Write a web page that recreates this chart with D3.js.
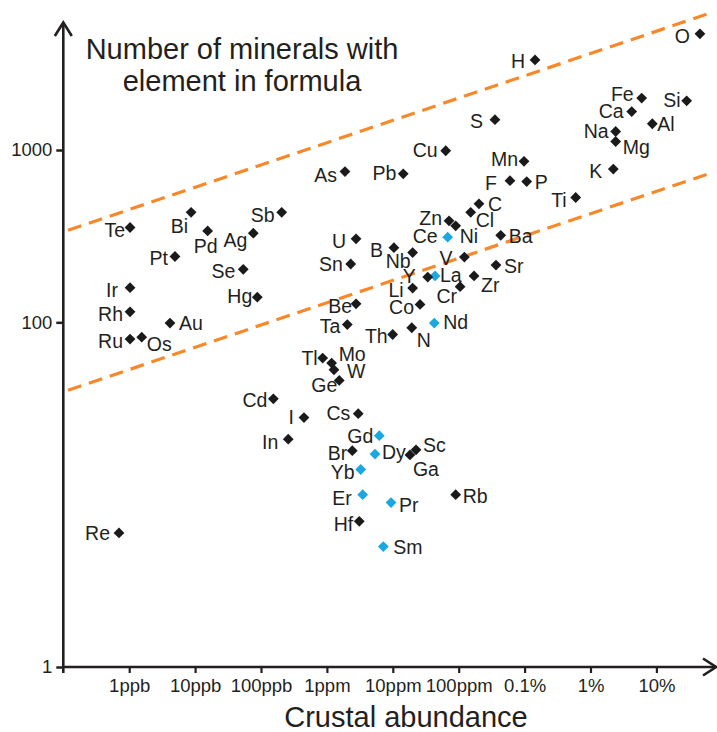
<!DOCTYPE html>
<html><head><meta charset="utf-8">
<script src="https://cdn.jsdelivr.net/npm/d3@7"></script>
<style>
html,body{margin:0;padding:0;background:#fff;}
text{font-family:"Liberation Sans",Arial,Helvetica,sans-serif;fill:#231f20;}
</style></head>
<body>
<svg id="chart" width="717" height="732"></svg>
<script>
// ---- data ----
const elements = ["O","H","Si","Fe","Ca","Al","Na","Mg","S","Cu","Mn","K","As","Pb","F","P","Ti","C","Cl","Bi","Sb","Zn","Ni","Te","Pd","Ag","Ba","Ce","U","B","Nb","Pt","V","Sn","Sr","Se","Y","La","Zr","Ir","Li","Cr","Hg","Be","Co","Rh","Au","Nd","Ta","N","Th","Os","Ru","Tl","Mo","W","Ge","Cd","Cs","I","In","Gd","Br","Sc","Dy","Ga","Yb","Er","Rb","Pr","Hf","Sm","Re"];
// crustal abundance in ppm
const abundance = [458000,1440,288000,59800,42200,86700,24100,24100,355,63.5,980,22200,1.88,14.4,600,1076,5960,203,152,0.0087,0.206,71.3,90,0.00103,0.0155,0.0764,434,68,2.77,10.4,20,0.00495,122,2.3,368,0.0538,33.9,43.7,171,0.00103,20,105,0.0879,2.77,25.9,0.00103,0.00416,42.6,2.04,19.4,9.96,0.00155,0.00103,0.863,1.18,1.28,1.54,0.154,2.99,0.449,0.259,6.24,2.43,22.5,5.37,18.2,3.26,3.49,90,9.4,3.1,7.18,0.0007];
// number of minerals with element in formula
const minerals = [4720,3330,1930,2000,1670,1420,1280,1120,1500,990,860,775,750,727,664,656,530,487,435,435,435,388,363,355,339,329,320,312,305,271,254,241,239,218,215,203,183,186,186,159,158,161,140,128,127,115,99,99,97,93,85,82,80,62,58,53,46,36,29.5,28,21,22,18,18.2,17.2,17,14,10,10,9,7,5,6];
const rareEarths = ["Ce","La","Nd","Gd","Dy","Yb","Er","Pr","Sm"];
// dashed guide lines [abundance ppm, minerals]
const upperLine = [[1e-4,335],[7.1e5,6300]];
const lowerLine = [[1e-4,39.5],[7.1e5,741]];
// tick labels
const xTickValues = [1e-3,1e-2,1e-1,1,10,100,1e3,1e4,1e5];
const xTickLabels = ["1ppb","10ppb","100ppb","1ppm","10ppm","100ppm","0.1%","1%","10%"];
const yTickValues = [1,100,1000];
const yTickLabels = ["1","100","1000"];
const titleLines = ["Number of minerals with","element in formula"];
const xTitle = "Crustal abundance";

// ---- label layout: [anchor, dx, dy] ----
const labelPos = {
 Te:["e",-5,9.5],Bi:["e",-3,21],Pd:["m",-2,22],Ag:["e",-6,14],Sb:["e",-7,10],As:["e",-8,10],U:["e",-10,9],
 O:["e",-10,9],H:["e",-10,8],S:["e",-12,8],Cu:["e",-8,6],Pb:["e",-7,6],Mn:["e",-6,5],F:["e",-13,9],P:["s",8,7],
 Fe:["e",-8,3],Ca:["e",-8,6],Si:["e",-6,6],Al:["s",5,7],Na:["e",-7,6],Mg:["s",7,12],K:["e",-11,9],Ti:["e",-9,9],
 C:["s",9,7],Cl:["s",5,15],Zn:["e",-7,4],Ni:["s",4,17],Ce:["e",-10,6],Ba:["s",8,8],B:["e",-11,9],Nb:["e",-2,15],
 V:["e",-12,8],Sr:["s",8,8],Y:["e",-12,6],La:["s",5,6],Zr:["s",7,16],Li:["e",-9,9],Cr:["e",-3,16],Co:["e",-6,10],
 Nd:["s",9,6],N:["s",5,19],Th:["e",-5,9],Pt:["e",-7,9],Se:["e",-8,9],Ir:["e",-12,9],Hg:["e",-5,6],Rh:["e",-7,9],
 Au:["s",9,7],Ru:["e",-7,9],Os:["s",5,14],Sn:["e",-8,7],Be:["e",-4,9],Ta:["e",-7,8],Tl:["e",-5,7],Mo:["s",7,-2],
 W:["s",13,8],Ge:["e",-2,12],Cd:["e",-6,8],I:["e",-10,6],In:["e",-10,10],Cs:["e",-8,6],Gd:["e",-6,7],Br:["e",-5,9],
 Dy:["s",7,5],Sc:["s",7,2],Ga:["s",3,21],Yb:["e",-6,10],Er:["e",-11,10],Pr:["s",8,9],Rb:["s",7,8],Hf:["e",-6,10],
 Sm:["s",10,7],Re:["e",-9,7]
};

const INK = "#231f20", BLUE = "#1ba8e2", ORANGE = "#f7892b";
const svg = d3.select("#chart");
const x = d3.scaleLog().domain([1e-4,1e6]).range([63.3,722.3]);
const y = d3.scaleLog().domain([1,1000]).range([667,150]);

// dashed lines
const line = d3.line().x(d=>x(d[0])).y(d=>y(d[1]));
[upperLine, lowerLine].forEach(l=>{
  svg.append("path").attr("d", line(l)).attr("fill","none")
    .attr("stroke",ORANGE).attr("stroke-width",3.2).attr("stroke-dasharray","14,8")
    .attr("stroke-dashoffset",-5);
});

// axes
const xAxis = d3.axisBottom(x).tickValues(xTickValues)
  .tickFormat((d,i)=>xTickLabels[i]).tickSize(6).tickPadding(6).tickSizeOuter(0);
const gx = svg.append("g").attr("transform",`translate(0,${y(1)})`).call(xAxis);
gx.select(".domain").remove();
gx.selectAll(".tick line").attr("stroke",INK).attr("stroke-width",2.2);
gx.selectAll(".tick text").attr("font-size","18.5px").attr("fill",INK)
  .style("font-family","'Liberation Sans',Arial,sans-serif");

const yAxis = d3.axisLeft(y).tickValues(yTickValues)
  .tickFormat((d,i)=>yTickLabels[i]).tickSize(7).tickPadding(4).tickSizeOuter(0);
const gy = svg.append("g").attr("transform",`translate(${x(1e-4)},0)`).call(yAxis);
gy.select(".domain").remove();
gy.selectAll(".tick line").attr("stroke",INK).attr("stroke-width",2.5);
gy.selectAll(".tick text").attr("font-size","18.5px").attr("fill",INK)
  .style("font-family","'Liberation Sans',Arial,sans-serif");

const x0 = x(1e-4), y0 = y(1);
// axis lines with arrows
svg.append("line").attr("x1",x0).attr("y1",y0+6).attr("x2",x0).attr("y2",23)
  .attr("stroke",INK).attr("stroke-width",2.6);
svg.append("polyline").attr("points",`${x0-8.5},36 ${x0},22.5 ${x0+8.5},36`)
  .attr("fill","none").attr("stroke",INK).attr("stroke-width",2.6);
svg.append("line").attr("x1",x0-1).attr("y1",y0).attr("x2",715).attr("y2",y0)
  .attr("stroke",INK).attr("stroke-width",2.6);
svg.append("polyline").attr("points",`703,${y0-8.5} 716,${y0} 703,${y0+8.5}`)
  .attr("fill","none").attr("stroke",INK).attr("stroke-width",2.6);

// points
const pts = elements.map((e,i)=>({e, a:abundance[i], n:minerals[i], ree:rareEarths.includes(e)}));
const diamond = r => `M0,${-r}L${r},0L0,${r}L${-r},0Z`;
const ordered = pts.filter(p=>p.ree).concat(pts.filter(p=>!p.ree));
svg.append("g").selectAll("path").data(ordered).join("path")
  .attr("d", diamond(5.4))
  .attr("transform", d=>`translate(${x(d.a)},${y(d.n)})`)
  .attr("fill", d=>d.ree?BLUE:"#1a1a1a");

// labels
const anch = {e:"end", s:"start", m:"middle"};
svg.append("g").selectAll("text").data(pts).join("text")
  .attr("x", d=>x(d.a)+labelPos[d.e][1])
  .attr("y", d=>y(d.n)+labelPos[d.e][2])
  .attr("text-anchor", d=>anch[labelPos[d.e][0]])
  .attr("font-size","19.5px")
  .text(d=>d.e);

// title
svg.append("text").attr("x",242).attr("y",59).attr("text-anchor","middle")
  .attr("font-size","29px").text(titleLines[0]);
svg.append("text").attr("x",242).attr("y",91).attr("text-anchor","middle")
  .attr("font-size","29px").text(titleLines[1]);
// x title
svg.append("text").attr("x",406).attr("y",727).attr("text-anchor","middle")
  .attr("font-size","29px").text(xTitle);
</script>
</body></html>
